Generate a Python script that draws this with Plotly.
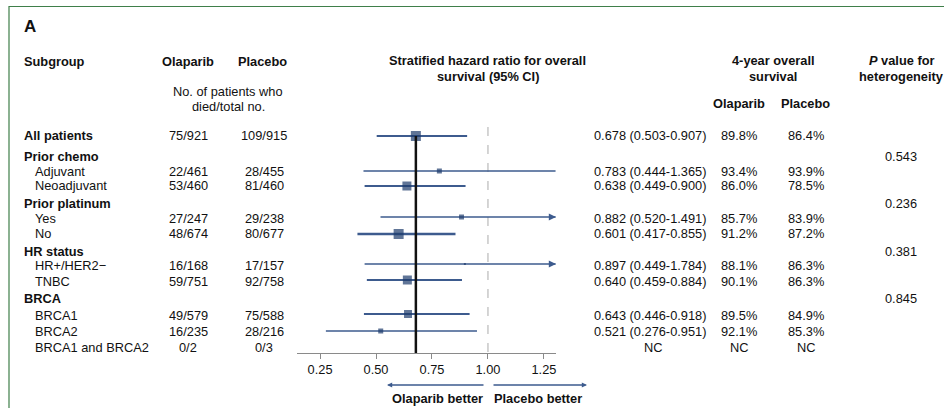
import plotly.graph_objects as go

# ---------------- data ----------------
rows = ["All patients", "Prior chemo", "Adjuvant", "Neoadjuvant", "Prior platinum",
        "Yes", "No", "HR status", "HR+/HER2\u2212", "TNBC", "BRCA", "BRCA1", "BRCA2",
        "BRCA1 and BRCA2"]
is_group = [True, True, False, False, True, False, False, True, False, False, True,
            False, False, False]
olaparib_n = ["75/921", "", "22/461", "53/460", "", "27/247", "48/674", "", "16/168",
              "59/751", "", "49/579", "16/235", "0/2"]
placebo_n = ["109/915", "", "28/455", "81/460", "", "29/238", "80/677", "", "17/157",
             "92/758", "", "75/588", "28/216", "0/3"]
hr = [0.678, None, 0.783, 0.638, None, 0.882, 0.601, None, 0.897, 0.640, None, 0.643,
      0.521, None]
hr_lo = [0.503, None, 0.444, 0.449, None, 0.520, 0.417, None, 0.449, 0.459, None, 0.446,
         0.276, None]
hr_hi = [0.907, None, 1.365, 0.900, None, 1.491, 0.855, None, 1.784, 0.884, None, 0.918,
         0.951, None]
os4_olaparib = ["89.8%", "", "93.4%", "86.0%", "", "85.7%", "91.2%", "", "88.1%", "90.1%",
                "", "89.5%", "92.1%", "NC"]
os4_placebo = ["86.4%", "", "93.9%", "78.5%", "", "83.9%", "87.2%", "", "86.3%", "86.3%",
               "", "84.9%", "85.3%", "NC"]
p_heterogeneity = ["", "0.543", "", "", "0.236", "", "", "0.381", "", "", "0.845", "", "",
                   ""]
tick_vals = [0.25, 0.50, 0.75, 1.00, 1.25]
overall_hr = 0.678

# ---------------- layout / style ----------------
W, H = 944, 408
row_y = [136, 156, 171, 186, 203, 218, 234, 251, 265, 281, 298, 315, 331, 347]
mark_y = [136, None, 171, 186, None, 217, 234, None, 264, 280, None, 314, 331, None]
marker_size = [10, 0, 5, 9, 0, 5, 10, 0, 2, 9, 0, 8, 5, 0]
line_w = [2, 0, 1.7, 1.8, 0, 1.7, 2.6, 0, 1.7, 1.8, 0, 2.2, 1.7, 0]
arrow_rows = {"Yes", "HR+/HER2\u2212"}
XMIN, XMAX = 0.147, 1.304
AX_BOTTOM = 353
NAVY = "#1d3a6b"
LINE_NAVY = "#3d5b8e"
FONT = "Liberation Sans, Arial, sans-serif"
FS = 12.8


def px(x):
    return x / W


def py(y):
    return 1 - y / H


fig = go.Figure()
annotations = []
shapes = []


def txt(x, y, s, anchor="center", bold=False, size=FS, color="#111"):
    if bold:
        s = "<b>" + s + "</b>"
    annotations.append(dict(x=px(x), y=py(y), xref="paper", yref="paper", text=s,
                            showarrow=False, xanchor=anchor, yanchor="middle",
                            font=dict(family=FONT, size=size, color=color)))


# forest marks
for i, name in enumerate(rows):
    if hr[i] is None:
        continue
    hi = min(hr_hi[i], XMAX - 0.002)
    fig.add_trace(go.Scatter(x=[hr_lo[i], hi], y=[mark_y[i], mark_y[i]], mode="lines",
                             line=dict(color=LINE_NAVY, width=line_w[i]),
                             hoverinfo="skip", showlegend=False, cliponaxis=False))
    if name in arrow_rows:
        annotations.append(dict(x=XMAX, y=mark_y[i], xref="x", yref="y",
                                ax=XMAX - 0.02, ay=mark_y[i], axref="x", ayref="y",
                                showarrow=True, arrowhead=2, arrowsize=0.9,
                                arrowwidth=1.6, arrowcolor=LINE_NAVY, text=""))

# vertical reference lines
shapes.append(dict(type="line", xref="x", yref="y", x0=1.0, x1=1.0, y0=127, y1=AX_BOTTOM,
                   line=dict(color="#c8c8c8", width=1.5, dash="dash"), layer="below"))
shapes.append(dict(type="line", xref="x", yref="y", x0=overall_hr, x1=overall_hr,
                   y0=136, y1=AX_BOTTOM, line=dict(color="#111", width=2.5)))

# markers on top
xs = [hr[i] for i in range(len(rows)) if hr[i] is not None]
ys = [mark_y[i] for i in range(len(rows)) if hr[i] is not None]
ss = [marker_size[i] for i in range(len(rows)) if hr[i] is not None]
fig.add_trace(go.Scatter(x=xs, y=ys, mode="markers",
                         marker=dict(symbol="square", size=ss, color=NAVY,
                                     line=dict(width=0)),
                         hoverinfo="skip", showlegend=False, cliponaxis=False))

# headers
txt(22, 27, "A", anchor="left", bold=True, size=17)
txt(22, 61, "Subgroup", anchor="left", bold=True)
txt(188, 61, "Olaparib", bold=True)
txt(262, 61, "Placebo", bold=True)
txt(228, 91, "No. of patients who")
txt(228, 107, "died/total no.")
txt(488, 60, "Stratified hazard ratio for overall", bold=True)
txt(488, 76, "survival (95% CI)", bold=True)
txt(773, 60, "4-year overall", bold=True)
txt(773, 76, "survival", bold=True)
txt(739, 103, "Olaparib", bold=True)
txt(805, 103, "Placebo", bold=True)
txt(901, 60, "<i>P</i> value for", bold=True)
txt(901, 76, "heterogeneity", bold=True)

# table rows
for i, name in enumerate(rows):
    y = row_y[i]
    if is_group[i]:
        txt(22, y, name, anchor="left", bold=True)
    else:
        txt(33, y, name, anchor="left")
    if olaparib_n[i]:
        txt(188, y, olaparib_n[i])
    if placebo_n[i]:
        txt(264, y, placebo_n[i])
    if hr[i] is not None:
        txt(650, y, f"{hr[i]:.3f} ({hr_lo[i]:.3f}-{hr_hi[i]:.3f})")
    elif olaparib_n[i]:
        txt(653, y, "NC")
    if os4_olaparib[i]:
        txt(739, y, os4_olaparib[i])
    if os4_placebo[i]:
        txt(806, y, os4_placebo[i])
    if p_heterogeneity[i]:
        txt(901, y, p_heterogeneity[i])

# direction arrows under axis
annotations.append(dict(x=px(387), y=py(385), xref="paper", yref="paper", ax=98, ay=0,
                        showarrow=True, arrowhead=2, arrowsize=0.8, arrowwidth=1.3,
                        arrowcolor=LINE_NAVY, text=""))
annotations.append(dict(x=px(587), y=py(385), xref="paper", yref="paper", ax=-95, ay=0,
                        showarrow=True, arrowhead=2, arrowsize=0.8, arrowwidth=1.3,
                        arrowcolor=LINE_NAVY, text=""))
txt(437, 398, "Olaparib better", bold=True)
txt(538, 398, "Placebo better", bold=True)

# green frame
shapes.append(dict(type="rect", xref="paper", yref="paper", x0=px(9), x1=px(960),
                   y0=py(420), y1=py(6.5), line=dict(color="#3f7f4a", width=1.2)))

fig.update_layout(
    width=W, height=H, margin=dict(l=0, r=0, t=0, b=0),
    paper_bgcolor="white", plot_bgcolor="rgba(0,0,0,0)",
    annotations=annotations, shapes=shapes, showlegend=False,
    xaxis=dict(domain=[px(297), px(556)], range=[XMIN, XMAX], tickvals=tick_vals,
               tickformat=".2f", showgrid=False, zeroline=False, showline=True,
               linecolor="#8a8a8a", linewidth=1.2, ticks="outside", ticklen=5,
               tickcolor="#8a8a8a", tickfont=dict(family=FONT, size=FS, color="#111"),
               fixedrange=True),
    yaxis=dict(domain=[1 - AX_BOTTOM / H, 1], range=[AX_BOTTOM, 0], visible=False,
               fixedrange=True),
)

fig.write_html("out.html", config={"displayModeBar": False},
               post_script="document.body.style.margin='0';document.body.style.overflow='hidden';")
